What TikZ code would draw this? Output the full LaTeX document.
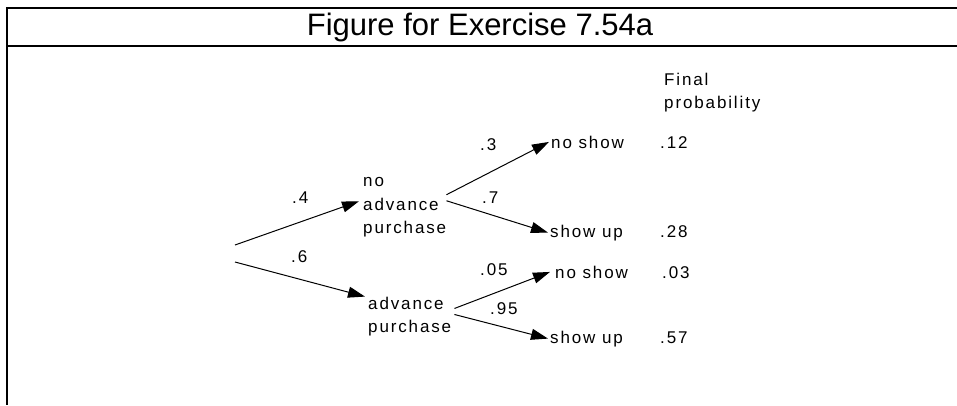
\documentclass[tikz,border=0pt]{standalone}
\usepackage{fontspec}
\setmainfont{Liberation Sans}
\newfontfamily\treefont[LetterSpace=11]{Liberation Sans}
\usetikzlibrary{arrows.meta, positioning}

\tikzset{
  frame/.style={line width=2.6pt},
  branch/.style={line width=1pt, -{Triangle[length=17pt, width=11pt]}},
  lbl/.style={font=\treefont\fontsize{17}{23.5}\selectfont, inner sep=0pt, anchor=base west},
  stage/.style={lbl, align=left, anchor=north west},
}

\begin{document}
\begin{tikzpicture}[x=1pt, y=-1pt]
  \useasboundingbox (0,0) rectangle (957,405);
  % frame and title
  \draw[frame] (957,8) -- (7,8) -- (7,405);
  \draw[frame] (7,46) -- (957,46);
  \node (title) at (480,27) {\fontsize{31}{33}\selectfont Figure for Exercise 7.54a};

  % first stage
  \coordinate (rootA) at (235,245);
  \coordinate (rootB) at (235,262);
  \node[stage] (noadv) at (363,177.2) {no\\advance\\purchase};
  \node[stage] (adv) at (368,296.6) {advance\\purchase};
  \draw[branch] (rootA) -- ([xshift=-4pt, yshift=6pt]noadv.west);
  \draw[branch] (rootB) -- ([xshift=-3pt]adv.north west);
  \node[lbl] (p4) at (292,203) {.4};
  \node[lbl] (p6) at (291,262) {.6};

  % second stage
  \node[lbl] (ns1) at (551,148) {no show};
  \node[lbl] (su1) at (550,237) {show up};
  \node[lbl] (ns2) at (555,278) {no show};
  \node[lbl] (su2) at (550,343) {show up};
  \draw[branch] ([yshift=12.5pt]noadv.east) -- ([xshift=-2pt]ns1.west);
  \draw[branch] ([yshift=6.5pt]noadv.east) -- ([xshift=-2pt]su1.west);
  \draw[branch] ([xshift=3pt, yshift=8pt]adv.east) -- ([xshift=-5pt]ns2.west);
  \draw[branch] ([xshift=3pt, yshift=2pt]adv.east) -- ([xshift=-2pt]su2.west);
  \node[lbl] (p3) at (480,150) {.3};
  \node[lbl] (p7) at (482,203) {.7};
  \node[lbl] (p05) at (480,275) {.05};
  \node[lbl] (p95) at (490,314) {.95};

  % final probabilities
  \node[stage] (head) at (664,72.8) {Final\\probability};
  \node[lbl] (f12) at (660,148) {.12};
  \node[lbl] (f28) at (660,237) {.28};
  \node[lbl] (f03) at (662,278) {.03};
  \node[lbl] (f57) at (660,343) {.57};
\end{tikzpicture}
\end{document}
